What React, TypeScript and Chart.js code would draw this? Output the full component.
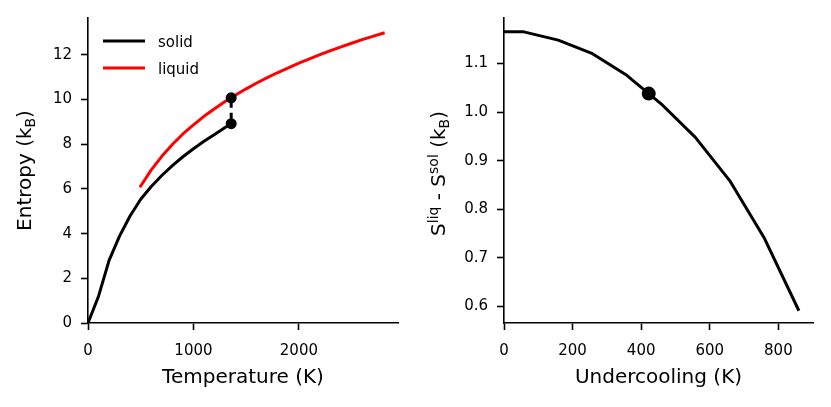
import React, { useEffect, useRef } from "react";
import { Chart, registerables } from "chart.js";

Chart.register(...registerables);

// ---------- data ----------
const solidT = [0, 100, 200, 300, 400, 500, 600, 700, 800, 900, 1000, 1100, 1200, 1300, 1358];
const solidS = [0, 1.2, 2.8, 3.9, 4.8, 5.54, 6.11, 6.6, 7.04, 7.44, 7.8, 8.13, 8.44, 8.75, 8.92];

const liquidT = [500, 600, 700, 800, 900, 1000, 1100, 1200, 1300, 1358, 1400, 1500, 1600, 1700, 1800, 1900, 2000, 2100, 2200, 2300, 2400, 2500, 2600, 2700, 2800];
const liquidS = [6.13, 6.85, 7.46, 7.99, 8.46, 8.87, 9.25, 9.59, 9.91, 10.08, 10.2, 10.48, 10.74, 10.98, 11.21, 11.42, 11.63, 11.82, 12.01, 12.19, 12.36, 12.52, 12.68, 12.83, 12.97];

const meltT = 1358;
const meltS = [8.92, 10.08];

const undercooling = [0, 58, 158, 258, 358, 458, 558, 658, 758, 858];
const deltaS = [1.165, 1.165, 1.148, 1.12, 1.0755, 1.017, 0.948, 0.859, 0.742, 0.594];

const markX = [422];
const markY = [1.038];

const leftXTicks = [0, 1000, 2000];
const leftYTicks = [0, 2, 4, 6, 8, 10, 12];
const rightXTicks = [0, 200, 400, 600, 800];
const rightYTicks = [0.6, 0.7, 0.8, 0.9, 1.0, 1.1];

const legendLabels = ["solid", "liquid"];
const legendColors = ["#000000", "#ff0000"];

// ---------- helpers ----------
const FAMILY = "'DejaVu Sans', sans-serif";
const TICK_FONT = { family: "DejaVu Sans", size: 15 };

type Seg = { t: string; size: number; dy: number };

function drawRich(ctx: CanvasRenderingContext2D, segs: Seg[], cx: number, cy: number, rotate: boolean) {
  ctx.save();
  ctx.translate(cx, cy);
  if (rotate) ctx.rotate(-Math.PI / 2);
  ctx.textAlign = "left";
  ctx.textBaseline = "alphabetic";
  ctx.fillStyle = "#000";
  let total = 0;
  const widths: number[] = [];
  for (const s of segs) {
    ctx.font = `${s.size}px ${FAMILY}`;
    const w = ctx.measureText(s.t).width;
    widths.push(w);
    total += w;
  }
  let x = -total / 2;
  segs.forEach((s, i) => {
    ctx.font = `${s.size}px ${FAMILY}`;
    ctx.fillText(s.t, x, s.dy);
    x += widths[i];
  });
  ctx.restore();
}

function pts(xs: number[], ys: number[]) {
  return xs.map((x, i) => ({ x, y: ys[i] }));
}

function axis(min: number, max: number, ticks: number[], fit: (s: any) => void, fmt?: (v: number) => string, padding = 6) {
  return {
    type: "linear" as const,
    min,
    max,
    afterFit: fit,
    afterBuildTicks: (scale: any) => {
      scale.ticks = ticks.map((v) => ({ value: v }));
    },
    grid: {
      display: true,
      drawOnChartArea: false,
      drawTicks: true,
      tickLength: 7,
      tickWidth: 1.6,
      tickColor: "#000",
    },
    border: { display: true, color: "#000", width: 1.6 },
    ticks: {
      color: "#000",
      font: TICK_FONT,
      padding,
      autoSkip: false,
      maxRotation: 0,
      callback: (v: any) => (fmt ? fmt(Number(v)) : String(v)),
    },
  };
}

function LeftChart() {
  const ref = useRef<HTMLCanvasElement>(null);
  useEffect(() => {
    const canvas = ref.current!;
    const titlePlugin = {
      id: "titlesLeft",
      afterDraw(chart: any) {
        const ctx = chart.ctx as CanvasRenderingContext2D;
        const a = chart.chartArea;
        drawRich(ctx, [{ t: "Temperature (K)", size: 20, dy: 0 }], (a.left + a.right) / 2, 383, false);
        drawRich(
          ctx,
          [
            { t: "Entropy (k", size: 20, dy: 0 },
            { t: "B", size: 14, dy: 4 },
            { t: ")", size: 20, dy: 0 },
          ],
          31,
          (a.top + a.bottom) / 2,
          true
        );
        // legend
        ctx.save();
        legendLabels.forEach((lab, i) => {
          const y = 41 + i * 27;
          ctx.strokeStyle = legendColors[i];
          ctx.lineWidth = 3;
          ctx.lineCap = "butt";
          ctx.beginPath();
          ctx.moveTo(a.left + 15, y);
          ctx.lineTo(a.left + 57, y);
          ctx.stroke();
          ctx.fillStyle = "#000";
          ctx.font = `15px ${FAMILY}`;
          ctx.textAlign = "left";
          ctx.textBaseline = "alphabetic";
          ctx.fillText(lab, a.left + 70, y + 6);
        });
        ctx.restore();
      },
    };
    const chart = new Chart(canvas, {
      type: "line",
      data: {
        datasets: [
          {
            data: pts([meltT, meltT], meltS),
            showLine: false,
            pointRadius: 5.5,
            pointBackgroundColor: "#000",
            pointBorderWidth: 0,
            borderColor: "#000",
            order: 0,
          },
          {
            data: pts([meltT, meltT], meltS),
            borderColor: "#000",
            borderWidth: 3,
            borderDash: [11, 5],
            pointRadius: 0,
            order: 1,
          },
          {
            label: legendLabels[1],
            data: pts(liquidT, liquidS),
            borderColor: legendColors[1],
            borderWidth: 3,
            pointRadius: 0,
            tension: 0,
            borderJoinStyle: "round",
            borderCapStyle: "square",
            order: 2,
          },
          {
            label: legendLabels[0],
            data: pts(solidT, solidS),
            borderColor: legendColors[0],
            borderWidth: 3,
            pointRadius: 0,
            tension: 0,
            borderJoinStyle: "round",
            borderCapStyle: "square",
            order: 3,
          },
        ] as any,
      },
      options: {
        responsive: false,
        animation: false,
        events: [],
        layout: { padding: { left: 0, right: 17, top: 17, bottom: 0 } },
        plugins: { legend: { display: false }, tooltip: { enabled: false } },
        scales: {
          x: axis(0, 2940, leftXTicks, (s: any) => { s.height = 84; }, undefined, 12) as any,
          y: axis(0, 13.65, leftYTicks, (s: any) => { s.width = 88; }, undefined, 9) as any,
        },
      },
      plugins: [titlePlugin],
    });
    return () => chart.destroy();
  }, []);
  return <canvas ref={ref} width={415} height={407} style={{ position: "absolute", left: 0, top: 0 }} />;
}

function RightChart() {
  const ref = useRef<HTMLCanvasElement>(null);
  useEffect(() => {
    const canvas = ref.current!;
    const titlePlugin = {
      id: "titlesRight",
      afterDraw(chart: any) {
        const ctx = chart.ctx as CanvasRenderingContext2D;
        const a = chart.chartArea;
        drawRich(ctx, [{ t: "Undercooling (K)", size: 20, dy: 0 }], (a.left + a.right) / 2, 383, false);
        drawRich(
          ctx,
          [
            { t: "S", size: 20, dy: 0 },
            { t: "liq", size: 14, dy: -7 },
            { t: " - S", size: 20, dy: 0 },
            { t: "sol", size: 14, dy: -7 },
            { t: " (k", size: 20, dy: 0 },
            { t: "B", size: 14, dy: 4 },
            { t: ")", size: 20, dy: 0 },
          ],
          30,
          (a.top + a.bottom) / 2 + 3,
          true
        );
      },
    };
    const chart = new Chart(canvas, {
      type: "line",
      data: {
        datasets: [
          {
            data: pts(markX, markY),
            showLine: false,
            pointRadius: 7,
            pointBackgroundColor: "#000",
            pointBorderWidth: 0,
            borderColor: "#000",
            order: 0,
          },
          {
            data: pts(undercooling, deltaS),
            borderColor: "#000",
            borderWidth: 3,
            pointRadius: 0,
            tension: 0,
            borderJoinStyle: "round",
            borderCapStyle: "square",
            order: 1,
          },
        ] as any,
      },
      options: {
        responsive: false,
        animation: false,
        events: [],
        layout: { padding: { left: 0, right: 18, top: 17, bottom: 0 } },
        plugins: { legend: { display: false }, tooltip: { enabled: false } },
        scales: {
          x: axis(0, 901, rightXTicks, (s: any) => { s.height = 84; }, undefined, 12) as any,
          y: axis(0.566, 1.1935, rightYTicks, (s: any) => { s.width = 89; }, (v) => v.toFixed(1), 9) as any,
        },
      },
      plugins: [titlePlugin],
    });
    return () => chart.destroy();
  }, []);
  return <canvas ref={ref} width={416} height={407} style={{ position: "absolute", left: 415, top: 0 }} />;
}

export default function App() {
  useEffect(() => {
    document.body.style.margin = "0";
  }, []);
  return (
    <div style={{ position: "relative", width: 831, height: 407, background: "#fff", overflow: "hidden" }}>
      <LeftChart />
      <RightChart />
    </div>
  );
}
